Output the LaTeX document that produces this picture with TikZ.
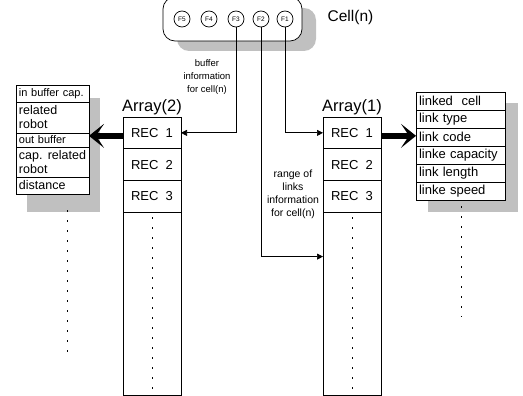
\documentclass[tikz,border=0pt]{standalone}
\usepackage{fontspec}
\setmainfont{Liberation Sans}
\usetikzlibrary{arrows.meta,positioning}
\definecolor{shadowgray}{HTML}{C0C0C0}

\begin{document}
\begin{tikzpicture}[
  x=1pt,y=-1pt,
  line width=0.7pt,
  node distance=0pt,
  every node/.style={font=\fontsize{10}{13}\selectfont},
  fcirc/.style={draw,circle,fill=white,minimum size=16pt,inner sep=0pt,font=\fontsize{6.5}{7}\selectfont},
  rec/.style={draw,fill=white,outer sep=0pt,minimum width=58pt,minimum height=31.7pt,inner sep=0pt,font=\fontsize{13}{14}\selectfont},
  tail/.style={draw,fill=white,outer sep=0pt,minimum width=58pt,minimum height=183pt,inner sep=0pt},
  lrow/.style={draw,fill=white,outer sep=0pt,text width=67pt,inner xsep=3pt,inner ysep=0pt,align=left,font=\fontsize{12.5}{14}\selectfont},
  rrow/.style={draw,fill=white,outer sep=0pt,text width=83pt,inner xsep=3pt,inner ysep=0pt,minimum height=18pt,align=left,font=\fontsize{13}{14}\selectfont},
  shadowbox/.style={fill=shadowgray,draw=none},
  dotline/.style={dash pattern=on 1.5pt off 8.5pt,line width=1pt},
  arr/.style={-{Triangle[length=6pt,width=6pt]}},
  fatarr/.style={-{Stealth[length=15pt,width=24pt,inset=8pt]},line width=6pt}
]
\useasboundingbox (0,0) rectangle (523,396);

% cell with its fields
\fill[shadowbox,rounded corners=12pt] (177,8) rectangle (316,51);
\draw[fill=white,rounded corners=12pt] (163,-3) rectangle (302,41);
\node[fcirc] (f5) at (182,19) {F5};
\node[fcirc] (f4) at (209,19) {F4};
\node[fcirc] (f3) at (236,19) {F3};
\node[fcirc] (f2) at (261,19) {F2};
\node[fcirc] (f1) at (285,19) {F1};
\node[anchor=west,font=\fontsize{15.5}{16}\selectfont] (celllbl) at (324,17) {Cell(n)};

% Array(2)
\node[rec,anchor=north] (a2r1) at (152,117) {REC\ \ 1};
\node[rec,below=of a2r1] (a2r2) {REC\ \ 2};
\node[rec,below=of a2r2] (a2r3) {REC\ \ 3};
\node[tail,below=of a2r3] (a2tail) {};
\node[above=1pt of a2r1,inner sep=1pt,font=\fontsize{16.5}{17}\selectfont] (a2lbl) {Array(2)};
\draw[dotline] ([yshift=-5pt]a2tail.north) -- ([yshift=3pt]a2tail.south);

% Array(1)
\node[rec,anchor=north] (a1r1) at (352,117) {REC\ \ 1};
\node[rec,below=of a1r1] (a1r2) {REC\ \ 2};
\node[rec,below=of a1r2] (a1r3) {REC\ \ 3};
\node[tail,below=of a1r3] (a1tail) {};
\node[above=1pt of a1r1,inner sep=1pt,font=\fontsize{16.5}{17}\selectfont] (a1lbl) {Array(1)};
\draw[dotline] ([yshift=-5pt]a1tail.north) -- ([yshift=3pt]a1tail.south);

% buffer record
\fill[shadowbox] (27,98) rectangle (100,212);
\node[lrow,anchor=north west,minimum height=17pt,font=\fontsize{11}{13}\selectfont] (inbuf) at (16,85) {in buffer cap.};
\node[lrow,below=of inbuf,minimum height=31pt] (inrobot) {related\\robot};
\node[lrow,below=of inrobot,minimum height=14pt,font=\fontsize{11}{13}\selectfont] (outbuf) {out buffer};
\node[lrow,below=of outbuf,minimum height=30pt] (outrobot) {cap.\hfill related\\robot};
\node[lrow,below=of outrobot,minimum height=17pt] (dist) {distance};
\draw[dotline] (67,210) -- (67,352);

% link record
\fill[shadowbox] (428,103) rectangle (518,212);
\node[rrow,anchor=north west] (lcell) at (416,92) {linked\ \ cell};
\node[rrow,below=of lcell] (ltype) {link type};
\node[rrow,below=of ltype] (lcode) {link code};
\node[rrow,below=of lcode] (lcap) {linke capacity};
\node[rrow,below=of lcap] (llen) {link length};
\node[rrow,below=of llen] (lspeed) {linke speed};
\draw[dotline] (461,206) -- (461,317);

% connectors
\draw[arr] (f3.south) |- (a2r1.east);
\draw[arr] (f1.south) |- (a1r1.west);
\draw[arr] (f2.south) |- ([yshift=47pt]a1tail.west);
\draw[fatarr] ([yshift=-3pt]a2r1.west) -- ([yshift=-3pt]a2r1.west -| inbuf.east);
\draw[fatarr] ([yshift=-3pt]a1r1.east) -- ([yshift=-3pt]a1r1.east -| lcell.west);
\node[align=center,font=\fontsize{9.5}{13}\selectfont] (bufcap) at (207,77) {buffer\\information\\for cell(n)};
\node[align=center,font=\fontsize{10.5}{13}\selectfont] (rangecap) at (293,194) {range of\\links\\information\\for cell(n)};
\end{tikzpicture}
\end{document}
